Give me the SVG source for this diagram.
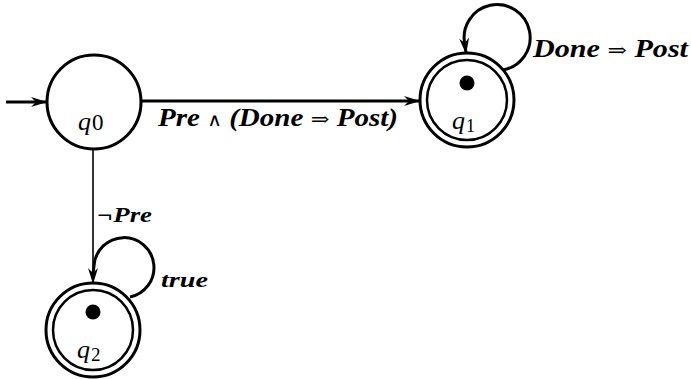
<svg xmlns="http://www.w3.org/2000/svg" width="691" height="379" viewBox="0 0 691 379">
  <style>
    .ring { fill: none; stroke: #000; stroke-width: 3; }
    .inner { fill: none; stroke: #000; stroke-width: 2.5; }
    .edge { fill: none; stroke: #000; stroke-width: 3; }
    .thin { fill: none; stroke: #000; stroke-width: 1.6; }
    .dot { fill: #000; }
    .lbl { font-family: 'Liberation Serif', 'Times New Roman', serif; font-style: italic; font-weight: bold; fill: #000; }
    .state { font-family: 'Liberation Serif', 'Times New Roman', serif; font-style: italic; fill: #000; }
    .sym { font-family: 'DejaVu Serif', serif; font-weight: normal; font-style: normal; }
  </style>
  <defs>
    <marker id="arrow" markerUnits="userSpaceOnUse" markerWidth="20" markerHeight="14" viewBox="-16 -7 18 14" refX="0" refY="0" orient="auto">
      <path d="M1,0 L-15,-5 L-10,0 L-15,5 Z" fill="#000"/>
    </marker>
  </defs>

  <!-- transitions -->
  <g id="connectors">
    <line class="edge" x1="6" y1="102" x2="46" y2="102" stroke-width="2.5" marker-end="url(#arrow)"/>
    <line class="edge" x1="141" y1="101" x2="419" y2="101" marker-end="url(#arrow)"/>
    <line class="thin" x1="93" y1="148" x2="93" y2="283" marker-end="url(#arrow)"/>
    <path class="edge" d="M130,297 A30,30 0 1 0 94,266 L93,274"/>
    <path class="edge" d="M503,70 A33,33 0 1 0 465,45 L466,53" marker-end="url(#arrow)"/>
    <text class="lbl" x="158" y="126" font-size="26" textLength="240" lengthAdjust="spacingAndGlyphs">Pre <tspan class="sym" font-size="18">∧</tspan> (Done <tspan class="sym" font-size="20">⇒</tspan> Post)</text>
    <text class="lbl" x="533" y="57" font-size="26" textLength="155" lengthAdjust="spacingAndGlyphs">Done <tspan class="sym" font-size="20">⇒</tspan> Post</text>
    <text class="lbl" x="97" y="222" font-size="22" textLength="55" lengthAdjust="spacingAndGlyphs">¬Pre</text>
    <text class="lbl" x="161" y="287" font-size="22" textLength="47" lengthAdjust="spacingAndGlyphs">true</text>
  </g>

  <!-- initial state -->
  <g id="q0">
    <circle class="ring" cx="94" cy="102" r="47"/>
    <text class="state" x="78" y="130" font-size="26">q<tspan font-style="normal" font-size="23" dx="1">0</tspan></text>
  </g>

  <!-- accepting state q1 -->
  <g id="q1">
    <circle class="ring" cx="467" cy="100" r="47"/>
    <circle class="inner" cx="467" cy="100" r="40"/>
    <circle class="dot" cx="467" cy="83" r="7.5"/>
    <text class="state" x="452" y="129" font-size="26">q<tspan font-style="normal" font-size="18" dx="1" dy="3">1</tspan></text>
  </g>

  <!-- accepting state q2 -->
  <g id="q2">
    <circle class="ring" cx="93" cy="330" r="47"/>
    <circle class="inner" cx="93" cy="330" r="40"/>
    <circle class="dot" cx="93" cy="312" r="7.5"/>
    <text class="state" x="77" y="358" font-size="26">q<tspan font-style="normal" font-size="19" dx="1" dy="3">2</tspan></text>
  </g>
</svg>
